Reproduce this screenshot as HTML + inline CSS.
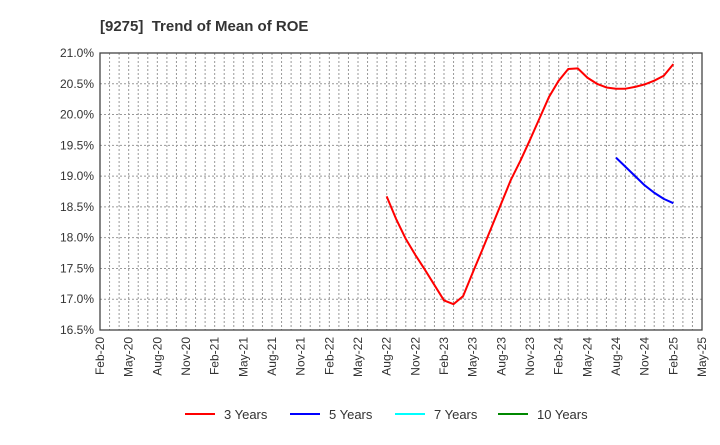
<!DOCTYPE html>
<html><head><meta charset="utf-8"><style>
body{margin:0;background:#fff;font-family:"Liberation Sans",sans-serif}
</style></head><body>
<svg id="c" width="720" height="440" xmlns="http://www.w3.org/2000/svg" font-family="Liberation Sans, sans-serif">
<text x="100" y="31" font-size="15" font-weight="bold" fill="#333" xml:space="preserve">[9275]  Trend of Mean of ROE</text>
<g id="grid"></g><g id="series"></g><g id="axes"></g>
<g id="legend"></g>
</svg>
<script>
const yTicks=[16.5,17.0,17.5,18.0,18.5,19.0,19.5,20.0,20.5,21.0];
const xLabels=["Feb-20","May-20","Aug-20","Nov-20","Feb-21","May-21","Aug-21","Nov-21","Feb-22","May-22","Aug-22","Nov-22","Feb-23","May-23","Aug-23","Nov-23","Feb-24","May-24","Aug-24","Nov-24","Feb-25","May-25"];
const red3=[18.67,18.3,17.98,17.72,17.48,17.23,16.98,16.92,17.05,17.43,17.8,18.18,18.56,18.94,19.25,19.59,19.94,20.29,20.55,20.74,20.75,20.6,20.5,20.44,20.42,20.42,20.45,20.49,20.55,20.63,20.82];
const red3Start=30;
const blue5=[19.3,19.15,19.0,18.85,18.73,18.63,18.56];
const blue5Start=54;
const NS="http://www.w3.org/2000/svg";
const L=100,R=702,T=53,B=330;
const x=m=>L+(R-L)*m/63;
const y=v=>T+(21-v)/4.5*(B-T);
function mk(t,a,p){const e=document.createElementNS(NS,t);for(const k in a)e.setAttribute(k,a[k]);p.appendChild(e);return e;}
const g=document.getElementById('grid'),ax=document.getElementById('axes'),s=document.getElementById('series'),lg=document.getElementById('legend');
for(let m=1;m<63;m++){const l=mk('line',{x1:x(m),x2:x(m),y1:T,y2:B,stroke:'#999','stroke-dasharray':'2,2','stroke-width':1},g);

}
yTicks.forEach(v=>{const l=mk('line',{x1:L,x2:R,y1:y(v),y2:y(v),stroke:'#999','stroke-dasharray':'2,2','stroke-width':1},g);


const t=mk('text',{x:L-6,y:y(v)+4,'text-anchor':'end','font-size':12,fill:'#333'},ax);t.textContent=v.toFixed(1)+'%';

});
xLabels.forEach((lab,i)=>{const xx=x(i*3);const t=mk('text',{x:0,y:0,'text-anchor':'end','font-size':12,fill:'#333',transform:`translate(${xx+4},${B+7}) rotate(-90)`},ax);t.textContent=lab;

});
const fr=mk('rect',{x:L,y:T,width:R-L,height:B-T,fill:'none',stroke:'#444','stroke-width':1.3},ax);


function line(d,st,c,n){const p=mk('polyline',{points:d.map((v,i)=>x(st+i)+','+y(v)).join(' '),fill:'none',stroke:c,'stroke-width':2,'stroke-linejoin':'round'},s);

}
line(red3,red3Start,'#f00','series-3-years');
line(blue5,blue5Start,'#00f','series-5-years');
[["3 Years","#f00",185],["5 Years","#00f",290],["7 Years","#0ff",395],["10 Years","#080",498]].forEach(([n,c,lx])=>{
const gg=mk('g',{},lg);


mk('line',{x1:lx,x2:lx+30,y1:414,y2:414,stroke:c,'stroke-width':2},gg);
const t=mk('text',{x:lx+39,y:419,'font-size':13,fill:'#333'},gg);t.textContent=n;});
</script>
</body></html>
